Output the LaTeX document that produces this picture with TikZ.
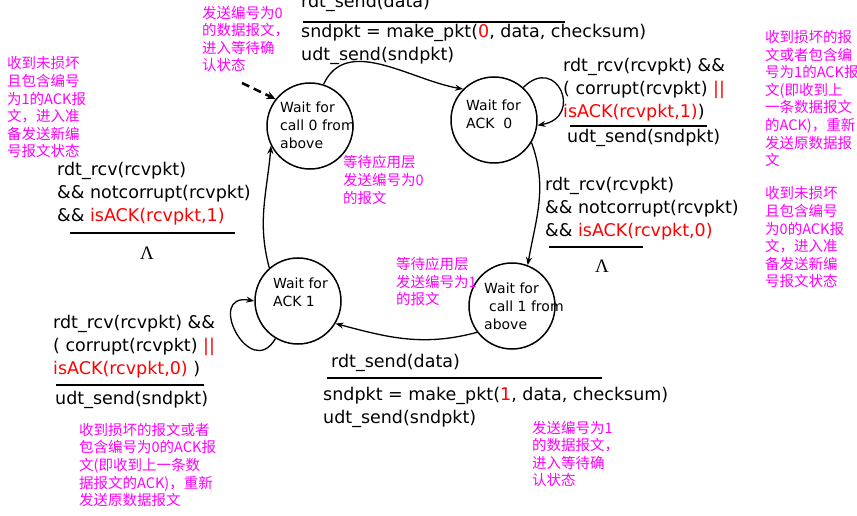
\documentclass[tikz,border=0pt]{standalone}
\usepackage{fontspec}
\setmainfont{DejaVu Sans}
\newfontfamily\cjk{Noto Sans CJK SC}
\newfontfamily\lamfont{Liberation Serif}
\usepackage{xcolor}
\usepackage{tikz}
\usetikzlibrary{arrows.meta}
\definecolor{notecol}{RGB}{255,0,255}
\tikzset{
    state/.style={circle, draw, line width=1.5pt, minimum size=86pt, inner sep=0pt},
    statetext/.style={anchor=west, align=left, inner sep=0pt, font=\fontsize{14}{18}\selectfont},
    code/.style={anchor=west, align=left, inner sep=0pt, font=\fontsize{17.5}{23}\selectfont},
    note/.style={anchor=west, align=left, inner sep=0pt, text=notecol, font=\cjk\fontsize{14.5}{17.6}\selectfont},
    lam/.style={inner sep=0pt, font=\lamfont\fontsize{19}{20}\selectfont},
    bar/.style={line width=2.5pt},
    trans/.style={line width=1.3pt, -{Stealth[length=8pt,width=6pt]}}
}

\begin{document}
\begin{tikzpicture}[x=1pt,y=1pt]
    \useasboundingbox (0,0) rectangle (857,515);

    % Draw the four states
    \node[state] (s0) at (310,389) {};
    \node[state] (a0) at (494,395) {};
    \node[state] (a1) at (298,214) {};
    \node[state] (c1) at (512,209) {};
    \node[statetext] (s0t) at (280,390) {Wait for\\call 0 from\\above};
    \node[statetext] (a0t) at (466,401) {Wait for\\ACK\ \ 0};
    \node[statetext] (a1t) at (273,223) {Wait for\\ACK 1};
    \node[statetext] (c1t) at (484,209) {Wait for\\\hspace{5pt}call 1 from\\above};

    % Transitions between the states
    \draw[trans] (s0.72) to[out=65,in=170] (a0.135);
    \draw[trans] (a0.329) to[out=-70,in=80] (c1.69);
    \draw[trans] (c1.217) to[out=195,in=-15] (a1.329);
    \draw[trans] (a1.131) to[out=105,in=-95] (s0.207);
    \draw[trans] (a0.48) to[out=45,in=10,looseness=3] (a0.353);
    \draw[trans] (a1.239) to[out=240,in=170,looseness=3] (a1.180);
    \coordinate (init) at (242,432);
    \draw[line width=2.5pt, dash pattern=on 8pt off 5pt, -{Stealth[length=9pt,width=8pt]}] (init) -- (s0.142);

    % Event / action labels
    \node[code] (ev0) at (301,512) {rdt\_send(data)};
    \draw[bar] (303,493) -- (565,493);
    \node[code] (ac0) at (301,470.5) {sndpkt = make\_pkt(\textcolor{red}{0}, data, checksum)\\udt\_send(sndpkt)};

    \node[code] (lp0) at (563,425) {rdt\_rcv(rcvpkt) \&\&\\( corrupt(rcvpkt) \textcolor{red}{||}\\\textcolor{red}{isACK(rcvpkt,1)})};
    \draw[bar] (570,389) -- (707,389);
    \node[code] (lp0a) at (567,377) {udt\_send(sndpkt)};

    \node[code] (rt) at (545,306) {rdt\_rcv(rcvpkt)\\\&\& notcorrupt(rcvpkt)\\\&\& \textcolor{red}{isACK(rcvpkt,0)}};
    \draw[bar] (549,268) -- (643,268);
    \node[lam] (lamr) at (602,249) {Λ};

    \node[code] (lt) at (57,321) {rdt\_rcv(rcvpkt)\\\&\& notcorrupt(rcvpkt)\\\&\& \textcolor{red}{isACK(rcvpkt,1)}};
    \draw[bar] (70,282) -- (235,282);
    \node[lam] (laml) at (147,262) {Λ};

    \node[code] (lp1) at (53,168) {rdt\_rcv(rcvpkt) \&\&\\( corrupt(rcvpkt) \textcolor{red}{||}\\\textcolor{red}{isACK(rcvpkt,0)} )};
    \draw[bar] (56,130) -- (204,130);
    \node[code] (lp1a) at (55,115) {udt\_send(sndpkt)};

    \node[code] (ev1) at (331,152) {rdt\_send(data)};
    \draw[bar] (327,137) -- (602,137);
    \node[code] (ac1) at (323,108) {sndpkt = make\_pkt(\textcolor{red}{1}, data, checksum)\\udt\_send(sndpkt)};

    % Notes
    \node[note] (n1) at (202,476) {发送编号为0\\的数据报文，\\进入等待确\\认状态};
    \node[note] (n2) at (7,407.5) {收到未损坏\\且包含编号\\为1的ACK报\\文，进入准\\备发送新编\\号报文状态};
    \node[note] (n3) at (343,335) {等待应用层\\发送编号为0\\的报文};
    \node[note] (n4) at (765,416.5) {收到损坏的报\\文或者包含编\\号为1的ACK报\\文(即收到上\\一条数据报文\\的ACK)，重新\\发送原数据报\\文};
    \node[note] (n5) at (765,277.5) {收到未损坏\\且包含编号\\为0的ACK报\\文，进入准\\备发送新编\\号报文状态};
    \node[note] (n6) at (396,233.5) {等待应用层\\发送编号为1\\的报文};
    \node[note] (n7) at (79,50) {收到损坏的报文或者\\包含编号为0的ACK报\\文(即收到上一条数\\据报文的ACK)，重新\\发送原数据报文};
    \node[note] (n8) at (532,61) {发送编号为1\\的数据报文，\\进入等待确\\认状态};
\end{tikzpicture}
\end{document}
